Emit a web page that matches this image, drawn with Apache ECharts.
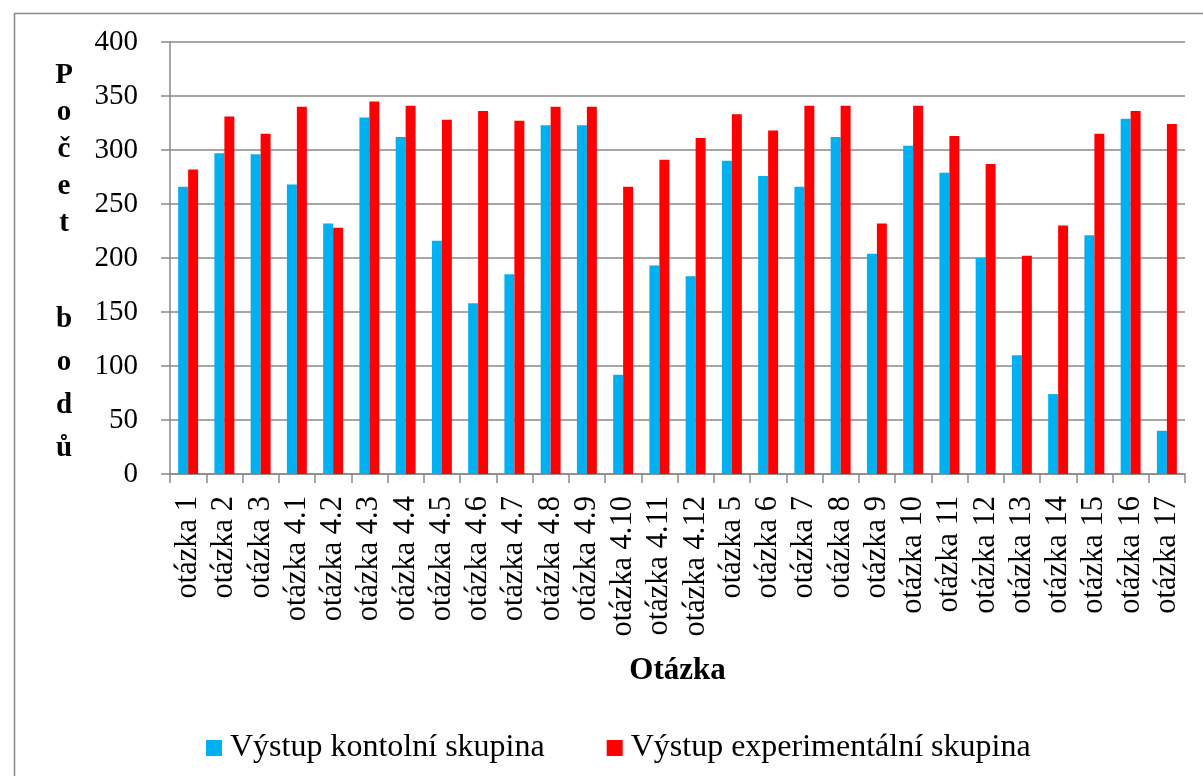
<!DOCTYPE html>
<html>
<head>
<meta charset="utf-8">
<script src="https://cdn.jsdelivr.net/npm/echarts@6/dist/echarts.min.js"></script>
<style>
html,body{margin:0;padding:0;background:#fff;}
#c{width:1203px;height:776px;}
</style>
</head>
<body>
<div id="c"></div>
<script>
const categories = ['otázka 1','otázka 2','otázka 3','otázka 4.1','otázka 4.2','otázka 4.3','otázka 4.4','otázka 4.5','otázka 4.6','otázka 4.7','otázka 4.8','otázka 4.9','otázka 4.10','otázka 4.11','otázka 4.12','otázka 5','otázka 6','otázka 7','otázka 8','otázka 9','otázka 10','otázka 11','otázka 12','otázka 13','otázka 14','otázka 15','otázka 16','otázka 17'];
const kontrolni = [266,297,296,268,232,330,312,216,158,185,323,323,92,193,183,290,276,266,312,204,304,279,200,110,74,221,329,40];
const experimentalni = [282,331,315,340,228,345,341,328,336,327,340,340,266,291,311,333,318,341,341,232,341,313,287,202,230,315,336,324];
const seriesNames = ['Výstup kontolní skupina','Výstup experimentální skupina'];
const yTitleTop = 'P\no\nč\ne\nt';
const yTitleBottom = 'b\no\nd\nů';
const xTitle = 'Otázka';

const FONT = "'Liberation Serif', 'Times New Roman', serif";
const chart = echarts.init(document.getElementById('c'));
chart.setOption({
  animation: false,
  backgroundColor: '#fff',
  grid: {left: 170, right: 18, top: 42, bottom: 302, containLabel: false},
  legend: {
    left: 201, top: 727, padding: 5,
    itemWidth: 16, itemHeight: 16, itemGap: 62,
    icon: 'rect',
    textStyle: {fontFamily: FONT, fontSize: 32, color: '#000', padding: [0,0,0,3], lineHeight: 32},
    data: seriesNames
  },
  graphic: [
    {type: 'rect', left: 12, top: 11, silent: true,
     shape: {x: 0, y: 0, width: 1400, height: 1000},
     style: {fill: 'none', stroke: '#898989', lineWidth: 1.5}},
    {type: 'text', x: 64, y: 150, silent: true,
     style: {text: yTitleTop, font: "bold 29px " + FONT, fill: '#000', align: 'center', verticalAlign: 'middle', lineHeight: 37}},
    {type: 'text', x: 64, y: 384, silent: true,
     style: {text: yTitleBottom, font: "bold 29px " + FONT, fill: '#000', align: 'center', verticalAlign: 'middle', lineHeight: 43}}
  ],
  xAxis: {
    type: 'category',
    data: categories,
    name: xTitle,
    nameLocation: 'middle',
    nameGap: 181,
    nameTextStyle: {fontFamily: FONT, fontSize: 31, fontWeight: 'bold', color: '#000'},
    axisLine: {lineStyle: {color: '#898989', width: 1.5}},
    axisTick: {show: true, length: 9, lineStyle: {color: '#898989', width: 1.5}},
    axisLabel: {rotate: 90, margin: 22, interval: 0, fontFamily: FONT, fontSize: 30.5, color: '#000'}
  },
  yAxis: {
    type: 'value',
    min: 0, max: 400, interval: 50,
    axisLine: {show: true, lineStyle: {color: '#898989', width: 1.5}},
    axisTick: {show: true, length: 9, lineStyle: {color: '#898989', width: 1.5}},
    axisLabel: {margin: 32, fontFamily: FONT, fontSize: 29, color: '#000'},
    splitLine: {show: true, lineStyle: {color: '#898989', width: 1.5}}
  },
  series: [
    {name: seriesNames[0], type: 'bar', data: kontrolni, itemStyle: {color: '#00B0F0'}, barGap: '0%', barCategoryGap: '45%'},
    {name: seriesNames[1], type: 'bar', data: experimentalni, itemStyle: {color: '#FF0000'}, barGap: '0%', barCategoryGap: '45%'}
  ]
});
</script>
</body>
</html>
